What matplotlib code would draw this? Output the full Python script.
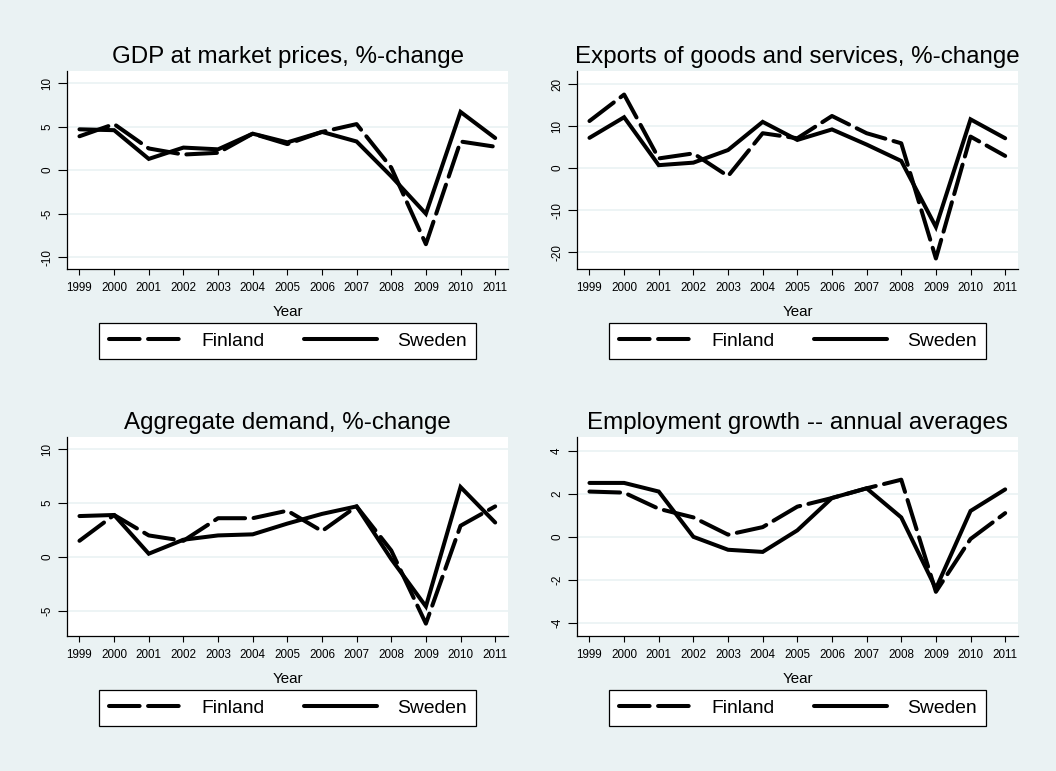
import matplotlib
matplotlib.use("Agg")
import matplotlib.pyplot as plt
from matplotlib.lines import Line2D

plt.rcParams['font.family'] = ['Liberation Sans', 'DejaVu Sans']
plt.rcParams['axes.unicode_minus'] = False

years = list(range(1999, 2012))

gdp_fin = [3.9, 5.3, 2.5, 1.8, 2.0, 4.2, 3.0, 4.4, 5.3, 0.3, -8.5, 3.3, 2.7]
gdp_swe = [4.7, 4.6, 1.3, 2.6, 2.4, 4.2, 3.2, 4.4, 3.3, -0.7, -5.0, 6.7, 3.7]

exp_fin = [11.2, 17.5, 2.3, 3.5, -1.9, 8.3, 7.1, 12.4, 8.3, 5.9, -21.5, 7.5, 2.9]
exp_swe = [7.2, 12.1, 0.7, 1.3, 4.3, 11.0, 6.7, 9.2, 5.6, 1.7, -14.0, 11.6, 7.1]

dem_fin = [1.5, 3.9, 2.0, 1.5, 3.6, 3.6, 4.3, 2.4, 4.7, 0.6, -6.2, 2.9, 4.7]
dem_swe = [3.8, 3.9, 0.3, 1.6, 2.0, 2.1, 3.1, 4.0, 4.7, -0.2, -4.6, 6.5, 3.2]

emp_fin = [2.1, 2.05, 1.3, 0.9, 0.1, 0.45, 1.4, 1.8, 2.25, 2.65, -2.55, -0.1, 1.1]
emp_swe = [2.5, 2.5, 2.1, 0.0, -0.6, -0.7, 0.3, 1.8, 2.25, 0.9, -2.4, 1.2, 2.2]

titles = ["GDP at market prices, %-change",
          "Exports of goods and services, %-change",
          "Aggregate demand, %-change",
          "Employment growth -- annual averages"]
yticks = [[-10, -5, 0, 5, 10], [-20, -10, 0, 10, 20],
          [-5, 0, 5, 10], [-4, -2, 0, 2, 4]]

BG = '#eaf2f3'
W, H = 1056, 771

fig = plt.figure(figsize=(W / 100, H / 100), dpi=100, facecolor=BG)


def frac_box(left, top, right, bottom):
    return [left / W, 1 - bottom / H, (right - left) / W, (bottom - top) / H]


panels = [
    # axes box (px), ylim, legend box (px)
    ((67, 71, 508, 269), (-11.35, 11.4), (99, 322, 476, 360)),
    ((577, 71, 1018, 269), (-24.0, 23.1), (609, 322, 986, 360)),
    ((67, 437, 508, 636), (-7.35, 11.15), (99, 689, 476, 727)),
    ((577, 437, 1018, 636), (-4.6, 4.63), (609, 689, 986, 727)),
]
series = [(gdp_fin, gdp_swe), (exp_fin, exp_swe), (dem_fin, dem_swe), (emp_fin, emp_swe)]

lw = 2.9
dash = (7.6, 2.1)

for i, (box, ylim, legbox) in enumerate(panels):
    ax = fig.add_axes(frac_box(*box))
    ax.set_facecolor('white')
    fin, swe = series[i]

    ax.plot(years, fin, color='black', lw=lw, dashes=dash,
            dash_capstyle='round', solid_capstyle='round', label='Finland')
    ax.plot(years, swe, color='black', lw=lw, solid_capstyle='round',
            solid_joinstyle='miter', label='Sweden')

    ax.set_xlim(1998.64, 2011.37)
    ax.set_ylim(*ylim)
    ax.set_xticks(years)
    ax.set_yticks(yticks[i])
    ax.tick_params(axis='x', labelsize=8.4, length=4.5, width=0.8, pad=5)
    ax.tick_params(axis='y', labelsize=8.4, length=6.5, width=0.8, pad=3.5,
                   labelrotation=90)
    for lab in ax.get_yticklabels():
        lab.set_va('center')
    ax.grid(axis='y', color=BG, lw=1.2)
    ax.set_axisbelow(True)
    for side in ('top', 'right'):
        ax.spines[side].set_visible(False)
    for side in ('left', 'bottom'):
        ax.spines[side].set_linewidth(0.9)

    ax.set_title(titles[i], fontsize=17.4, pad=6)
    ax.set_xlabel('Year', fontsize=10.9, labelpad=8)

    handles = [Line2D([], [], color='black', lw=lw, dashes=dash, dash_capstyle='round'),
               Line2D([], [], color='black', lw=lw, solid_capstyle='round')]
    leg = ax.legend(handles, ['Finland', 'Sweden'], loc='center',
                    bbox_to_anchor=frac_box(*legbox), bbox_transform=fig.transFigure,
                    mode='expand', ncol=2, fontsize=13.9, handlelength=3.8,
                    handletextpad=1.0, columnspacing=2.0, borderpad=0.5,
                    borderaxespad=0, fancybox=False, framealpha=1)
    leg.get_frame().set_edgecolor('black')
    leg.get_frame().set_linewidth(0.9)

fig.savefig('out.png', dpi=100, facecolor=BG)
